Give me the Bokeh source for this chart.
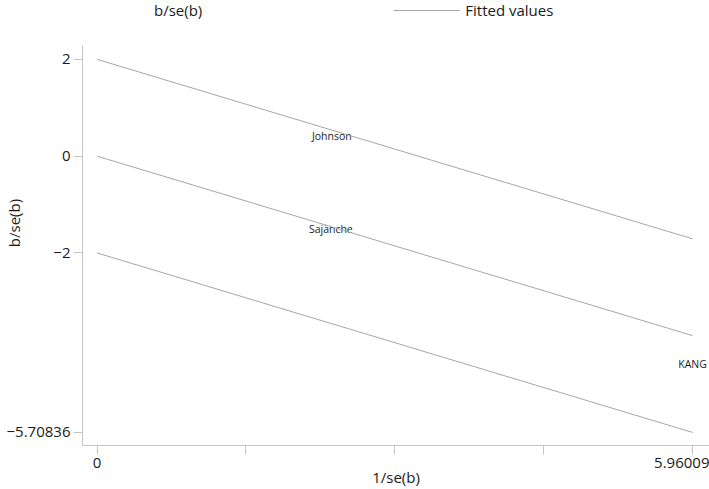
from bokeh.plotting import figure
from bokeh.models import Range1d, FixedTicker, Legend, LegendItem, ColumnDataSource
from bokeh.core.properties import value
from bokeh.embed import file_html
from bokeh.resources import INLINE

# ---- data ----
study_names = ["Johnson", "Sajänche", "KANG"]
inv_se = [2.35, 2.34, 5.96009]          # 1/se(b)
b_over_se = [0.41, -1.51, -4.29]        # b/se(b)

line_x = [0.0, 5.96009]
fitted = [0.0, -3.70836]
upper = [2.0, -1.70836]
lower = [-2.0, -5.70836]

y_ticks = [2, 0, -2, -5.70836]
y_tick_labels = ["2", "0", "\u22122", "\u22125.70836"]
x_ticks = [0, 1.4900225, 2.980045, 4.4700675, 5.96009]
x_tick_labels = ["0", "", "", "", "5.96009"]

FONT = "Open Sans"
LINE_COL = "#a6a6a6"
AXIS_COL = "#c4c4c4"
TEXT_COL = "#1a1a1a"

Y_LO, Y_HI, Y_AXIS_TOP = -5.979, 3.216, 2.29

p = figure(width=709, height=489, output_backend="svg", toolbar_location=None,
           x_range=Range1d(-0.1454, 6.130), y_range=Range1d(Y_LO, Y_HI),
           min_border_left=77, min_border_right=0, min_border_top=0,
           min_border_bottom=43)
p.outline_line_color = None
p.xgrid.grid_line_color = None
p.ygrid.grid_line_color = None
p.background_fill_color = "white"
p.border_fill_color = "white"

pts_src = ColumnDataSource(dict(x=inv_se, y=b_over_se, name=study_names))
pts = p.scatter("x", "y", source=pts_src, size=6, fill_alpha=0, line_alpha=0)
p.text("x", "y", text="name", source=pts_src, text_align="center",
       text_baseline="middle", text_font=value(FONT), text_font_size="10.5px",
       text_color=TEXT_COL)

fit_line = p.line(line_x, fitted, line_color=LINE_COL, line_width=1)
p.line(line_x, upper, line_color=LINE_COL, line_width=1)
p.line(line_x, lower, line_color=LINE_COL, line_width=1)

# axes
for ax in (p.xaxis[0], p.yaxis[0]):
    ax.axis_line_color = AXIS_COL
    ax.major_tick_line_color = AXIS_COL
    ax.minor_tick_line_color = None
    ax.major_tick_in = 0
    ax.major_label_text_font = FONT
    ax.major_label_text_font_size = "15px"
    ax.major_label_text_color = TEXT_COL
    ax.axis_label_text_font = FONT
    ax.axis_label_text_font_size = "15px"
    ax.axis_label_text_font_style = "normal"
    ax.axis_label_text_color = TEXT_COL

p.xaxis.ticker = FixedTicker(ticks=x_ticks)
p.xaxis.major_label_overrides = {t: l for t, l in zip(x_ticks, x_tick_labels)}
p.xaxis.major_tick_out = 9
p.xaxis.major_label_standoff = 3
p.xaxis.axis_label = "1/se(b)"
p.xaxis.axis_label_standoff = -4

p.yaxis.ticker = FixedTicker(ticks=y_ticks)
p.yaxis.major_label_overrides = {t: l for t, l in zip(y_ticks, y_tick_labels)}
p.yaxis.major_label_orientation = "horizontal"
p.yaxis.major_tick_out = 9
p.yaxis.major_label_standoff = 3
p.yaxis.axis_label = "b/se(b)"
p.yaxis.axis_label_standoff = -20
p.yaxis.bounds = (Y_LO, Y_AXIS_TOP)

legend = Legend(items=[LegendItem(label="b/se(b)", renderers=[pts]),
                       LegendItem(label="Fitted values", renderers=[fit_line])],
                orientation="horizontal", location="top_left",
                glyph_width=67, glyph_height=18, label_height=18,
                label_standoff=5, spacing=191,
                padding=0, margin=0, border_line_color=None,
                background_fill_alpha=0, label_text_font=FONT,
                label_text_font_size="15px", label_text_color=TEXT_COL)
p.add_layout(legend, "center")

open("out.html", "w").write(file_html(p, INLINE))
